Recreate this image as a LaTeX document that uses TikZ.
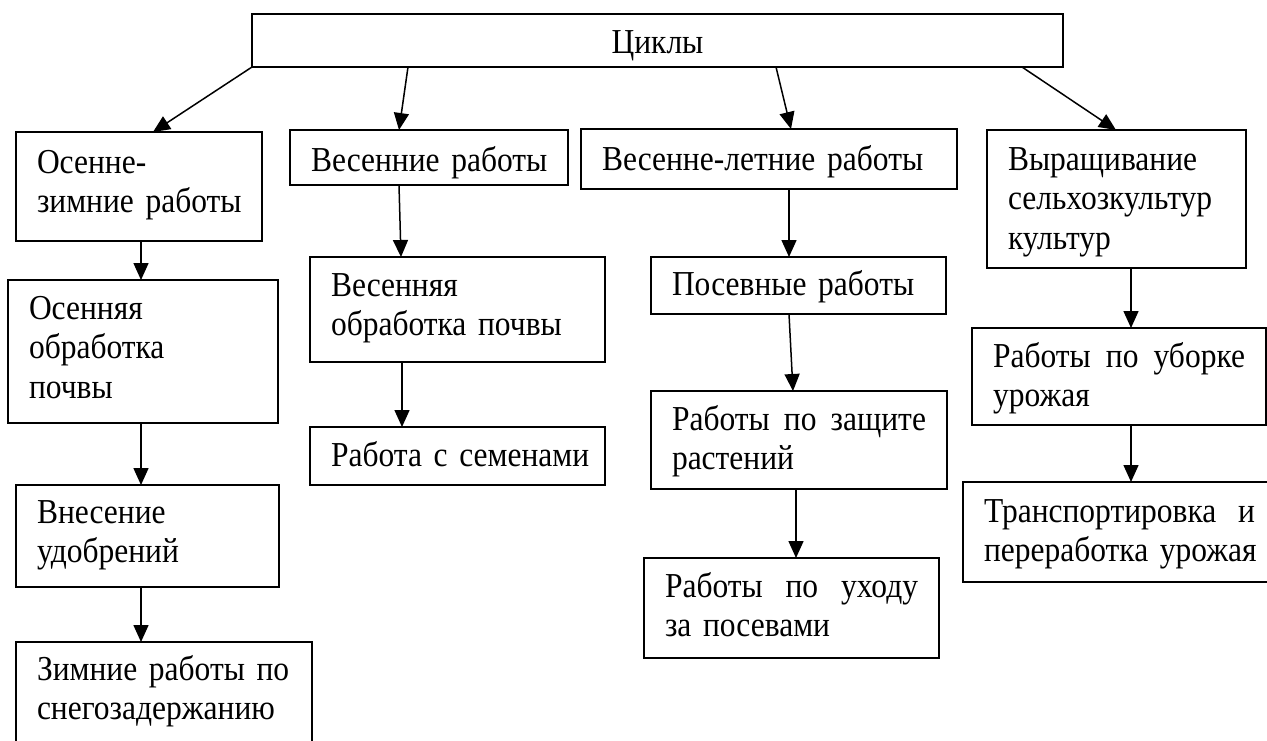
\documentclass[tikz,border=0pt]{standalone}
\usepackage{fontspec}
\setmainfont[FakeStretch=0.9]{Liberation Serif}
\usetikzlibrary{arrows.meta}
\begin{document}
\begin{tikzpicture}[x=1pt,y=-1pt,
  box/.style={draw, line width=1.2pt, rectangle, anchor=north west,
    inner xsep=21pt, inner ysep=0pt, outer sep=0pt, align=left,
    minimum height=0pt, font=\fontsize{35}{39.5}\selectfont},
  arr/.style={line width=1.5pt, -{Triangle[length=17pt,width=15pt]}}]
\path[use as bounding box] (0,0) rectangle (1267,740);
\fill[white] (0,0) rectangle (1267,740);
\clip (0,0) rectangle (1267,740);

\node[box, align=center, text width=769pt, text height=39pt, text depth=14pt] (cyc) at (252,14) {Циклы};

\node[box, text width=204pt, text height=41pt, text depth=68pt] (oz) at (16,132) {\mbox{Осенне-}\\\mbox{зимние работы}};
\node[box, text width=236pt, text height=41pt, text depth=14pt] (vr) at (290,130) {\mbox{Весенние работы}};
\node[box, text width=334pt, text height=41pt, text depth=19pt] (vl) at (581,129) {\mbox{Весенне-летние работы}};
\node[box, text width=217pt, text height=40pt, text depth=98pt] (vy) at (987,130) {\mbox{Выращивание}\\\mbox{сельхозкультур}\\\mbox{культур}};

\node[box, text width=228pt, text height=39pt, text depth=104pt] (oo) at (8,280) {\mbox{Осенняя}\\\mbox{обработка}\\\mbox{почвы}};
\node[box, text width=253pt, text height=39pt, text depth=66pt] (vo) at (310,257) {\mbox{Весенняя}\\\mbox{обработка почвы}};
\node[box, text width=253pt, text height=38pt, text depth=19pt] (pr) at (651,257) {\mbox{Посевные работы}};
\node[box, text width=252pt, text height=39pt, text depth=58pt] (ub) at (972,328) {\hbox to 252pt{Работы\hfill по\hfill уборке}\\\mbox{урожая}};

\node[box, text width=221pt, text height=38pt, text depth=64pt] (vn) at (16,485) {\mbox{Внесение}\\\mbox{удобрений}};
\node[box, text width=253pt, text height=39pt, text depth=19pt] (rs) at (310,427) {\mbox{Работа с семенами}};
\node[box, text width=254pt, text height=39pt, text depth=59pt] (zr) at (651,391) {\hbox to 254pt{Работы\hfill по\hfill защите}\\\mbox{растений}};
\node[box, text width=271pt, text height=40pt, text depth=60pt] (tr) at (963,482) {\hbox to 271pt{Транспортировка\hfill и}\\\mbox{переработка урожая}};

\node[box, text width=254pt, text height=38pt, text depth=82pt] (zm) at (16,642) {\mbox{Зимние работы по}\\\mbox{снегозадержанию}};
\node[box, text width=253pt, text height=39pt, text depth=61pt] (ux) at (644,558) {\hbox to 253pt{Работы\hfill по\hfill уходу}\\\mbox{за посевами}};

\draw[arr] (cyc.south west) -- ([xshift=137pt]oz.north west);
\draw[arr] ([xshift=156pt]cyc.south west) -- ([xshift=109pt]vr.north west);
\draw[arr] ([xshift=524pt]cyc.south west) -- ([xshift=210pt]vl.north west);
\draw[arr] ([xshift=770pt]cyc.south west) -- ([xshift=129pt]vy.north west);

\draw[arr] ([xshift=125pt]oz.south west) -- ([xshift=133pt]oo.north west);
\draw[arr] ([xshift=133pt]oo.south west) -- ([xshift=125pt]vn.north west);
\draw[arr] ([xshift=125pt]vn.south west) -- ([xshift=125pt]zm.north west);

\draw[arr] ([xshift=109pt]vr.south west) -- ([xshift=91pt]vo.north west);
\draw[arr] ([xshift=92pt]vo.south west) -- ([xshift=92pt]rs.north west);

\draw[arr] ([xshift=208pt]vl.south west) -- ([xshift=138pt]pr.north west);
\draw[arr] ([xshift=138pt]pr.south west) -- ([xshift=142pt]zr.north west);
\draw[arr] ([xshift=145pt]zr.south west) -- ([xshift=152pt]ux.north west);

\draw[arr] ([xshift=144pt]vy.south west) -- ([xshift=159pt]ub.north west);
\draw[arr] ([xshift=159pt]ub.south west) -- ([xshift=168pt]tr.north west);
\end{tikzpicture}
\end{document}
